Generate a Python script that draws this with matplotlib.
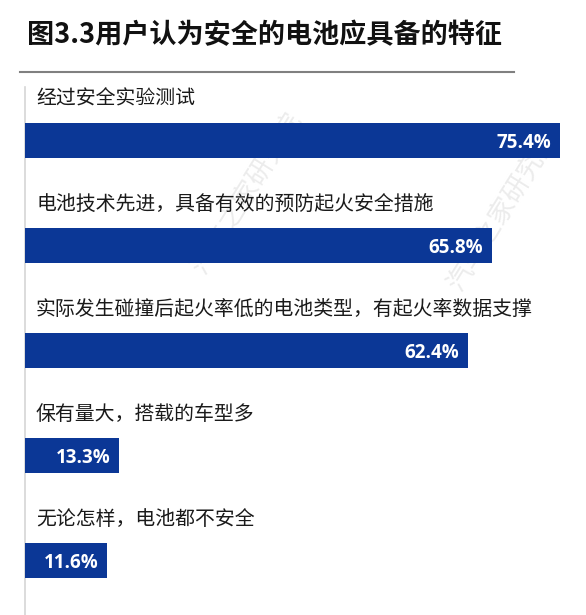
import matplotlib.pyplot as plt
from matplotlib.lines import Line2D

plt.rcParams['font.family'] = ['Noto Sans CJK SC', 'DejaVu Sans']

title = "图3.3用户认为安全的电池应具备的特征"
categories = [
    "经过安全实验测试",
    "电池技术先进，具备有效的预防起火安全措施",
    "实际发生碰撞后起火率低的电池类型，有起火率数据支撑",
    "保有量大，搭载的车型多",
    "无论怎样，电池都不安全",
]
values = [75.4, 65.8, 62.4, 13.3, 11.6]
value_labels = ["75.4%", "65.8%", "62.4%", "13.3%", "11.6%"]

BAR = "#0b3796"
W, H = 586, 615
PX = 7.095  # pixels per percent

fig = plt.figure(figsize=(W / 100, H / 100), dpi=100)
fig.patch.set_facecolor("white")

# axes: left edge at x=25px, spans to right edge; y from 72px to bottom
ax = fig.add_axes([25 / W, 0, 1 - 25 / W, 1 - 72 / H])
ax.set_xlim(0, 561 / PX)
# y in "bar slots": slot 0 centred at 140.5px, spacing 105px
ax.set_ylim((615 - 140.5) / 105, (72 - 140.5) / 105)
ax.axis("off")

# faint watermarks, behind the bars
for wx, wy in [(247, 193), (503, 210)]:
    ax.text(wx / W, 1 - wy / H, "汽车之家研究院", fontsize=19, color="#ececec",
            rotation=58, ha="center", va="center", zorder=1,
            transform=fig.transFigure)

ys = list(range(len(values)))
ax.barh(ys, values, height=35 / 105, color=BAR, zorder=2)

for y, v, cat, lab in zip(ys, values, categories, value_labels):
    ax.text(11 / PX, y - 41 / 105, cat, fontsize=14.3,
            color="#1a1a1a", ha="left", va="center", zorder=3)
    ax.text(v - 1.25, y + 0.02, lab, fontsize=13.5, color="white",
            fontweight="bold", ha="right", va="center", zorder=3,
            family=["Open Sans", "DejaVu Sans"])

# left vertical rule
ax.plot([0, 0], [(87 - 140.5) / 105, (615 - 140.5) / 105], color="#d6d6d6",
        lw=1.2, clip_on=False, zorder=1)

# horizontal rule under title
fig.add_artist(Line2D([20 / W, 514 / W], [1 - 72 / H, 1 - 72 / H],
                      color="#808080", lw=1.5))

fig.text(27 / W, 1 - 35 / H, title, fontsize=19.5, fontweight="bold",
         color="#111111", ha="left", va="center")

fig.savefig("out.png", dpi=100, facecolor="white")
